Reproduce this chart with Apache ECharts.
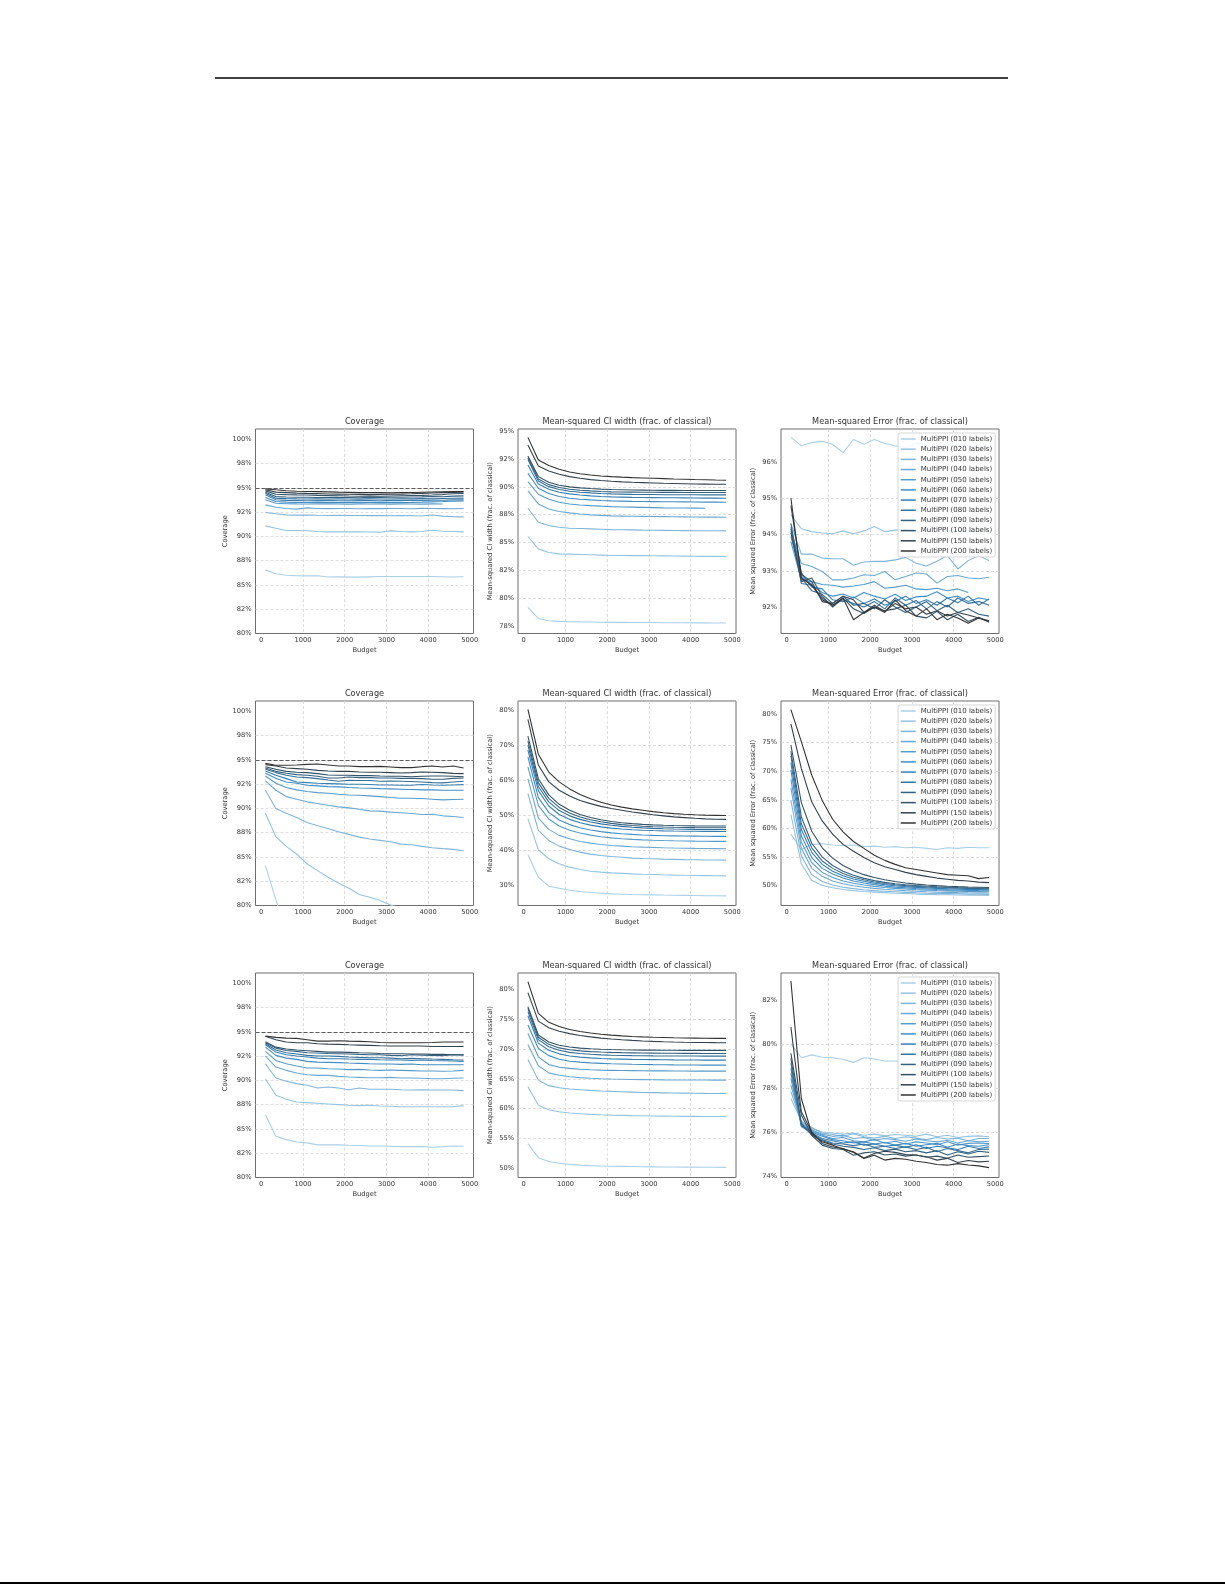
<!DOCTYPE html>
<html>
<head>
<meta charset="utf-8">
<script src="https://cdn.jsdelivr.net/npm/echarts@6/dist/echarts.min.js"></script>
<style>
  html, body { margin: 0; padding: 0; background: #fff; }
  #chart { width: 1225px; height: 1585px; }
</style>
</head>
<body>
<div id="chart"></div>
<script>
// budgets on the x axis (same for every panel)
const budgets = [100, 350, 600, 850, 1100, 1350, 1600, 1850, 2100, 2350, 2600, 2850, 3100, 3350, 3600, 3850, 4100, 4350, 4600, 4850];
const labelCounts = ['010', '020', '030', '040', '050', '060', '070', '080', '090', '100', '150', '200'];
const seriesNames = labelCounts.map(n => 'MultiPPI (' + n + ' labels)');

// tick positions and their printed labels
const xTicks = [0, 1000, 2000, 3000, 4000, 5000];
const covTicks = [80, 82.5, 85, 87.5, 90, 92.5, 95, 97.5, 100];
const covTickLabels = ['80%', '82%', '85%', '88%', '90%', '92%', '95%', '98%', '100%'];
const ciTicksA = [77.5, 80, 82.5, 85, 87.5, 90, 92.5, 95];
const ciTickLabelsA = ['78%', '80%', '82%', '85%', '88%', '90%', '92%', '95%'];
const mseTicksA = [92, 93, 94, 95, 96];
const mseTickLabelsA = ['92%', '93%', '94%', '95%', '96%'];
const ciTicksB = [30, 40, 50, 60, 70, 80];
const ciTickLabelsB = ['30%', '40%', '50%', '60%', '70%', '80%'];
const mseTicksB = [50, 55, 60, 65, 70, 75, 80];
const mseTickLabelsB = ['50%', '55%', '60%', '65%', '70%', '75%', '80%'];
const ciTicksC = [50, 55, 60, 65, 70, 75, 80];
const ciTickLabelsC = ['50%', '55%', '60%', '65%', '70%', '75%', '80%'];
const mseTicksC = [74, 76, 78, 80, 82];
const mseTickLabelsC = ['74%', '76%', '78%', '80%', '82%'];

// ---- row 1 ----
const covA = [
  [86.55, 86.15, 86.0, 85.95, 85.93, 85.95, 85.82, 85.83, 85.8, 85.8, 85.83, 85.86, 85.87, 85.86, 85.86, 85.87, 85.86, 85.84, 85.81, 85.84],
  [91.08, 90.84, 90.6, 90.6, 90.57, 90.5, 90.46, 90.46, 90.47, 90.46, 90.45, 90.43, 90.56, 90.5, 90.46, 90.5, 90.63, 90.53, 90.5, 90.46],
  [92.45, 92.32, 92.21, 92.18, 92.2, 92.17, 92.15, 92.16, 92.14, 92.15, 92.13, 92.14, 92.12, 92.13, 92.12, 92.1, 92.2, 92.08, 92.03, 92.0],
  [93.24, 93.0, 92.86, 92.8, 92.93, 92.86, 92.85, 92.87, 92.86, 92.84, 92.86, 92.85, 92.87, 92.86, 92.84, 92.88, 92.86, 92.85, 92.84, 92.86],
  [93.76, 93.41, 93.36, 93.34, 93.33, 93.35, 93.34, 93.33, 93.32, 93.34, 93.33, 93.35, 93.32, 93.34, 93.33, 93.32, 93.34, 93.33, null, null],
  [94.0, 93.58, 93.52, 93.5, 93.48, 93.5, 93.49, 93.47, 93.5, 93.48, 93.49, 93.5, 93.47, 93.49, 93.5, 93.52, 93.55, 93.58, 93.62, 93.65],
  [94.27, 93.76, 93.7, 93.69, 93.66, 93.68, 93.7, 93.67, 93.66, 93.68, 93.69, 93.66, 93.7, 93.68, 93.72, 93.7, 93.73, 93.72, 93.75, 93.76],
  [94.44, 93.93, 93.88, 93.86, 93.85, 93.86, 93.84, 93.86, 93.85, 93.83, 93.86, 93.85, 93.84, 93.87, 93.86, 93.88, 93.87, 93.9, 93.92, 93.93],
  [94.55, 94.1, 94.05, 94.03, 94.02, 94.0, 94.03, 94.01, 94.0, 93.98, 94.02, 94.0, 94.03, 94.02, 94.05, 94.06, 94.1, 94.08, 94.14, 94.17],
  [94.68, 94.34, 94.3, 94.27, 94.25, 94.22, 94.2, 94.18, 94.15, 94.13, 94.15, 94.12, 94.16, 94.18, 94.2, 94.22, 94.25, 94.3, 94.38, 94.41],
  [94.79, 94.55, 94.5, 94.45, 94.42, 94.4, 94.36, 94.35, 94.33, 94.32, 94.3, 94.32, 94.34, 94.35, 94.38, 94.42, 94.46, 94.5, 94.52, 94.55],
  [94.89, 94.79, 94.7, 94.65, 94.62, 94.6, 94.58, 94.55, 94.53, 94.5, 94.52, 94.5, 94.48, 94.5, 94.52, 94.54, 94.56, 94.58, 94.6, 94.61]
];
const ciA = [
  [79.18, 78.19, 77.99, 77.93, 77.9, 77.88, 77.87, 77.85, 77.84, 77.84, 77.83, 77.82, 77.82, 77.81, 77.8, 77.8, 77.79, 77.79, 77.78, 77.78],
  [85.54, 84.43, 84.1, 83.98, 83.96, 83.93, 83.9, 83.87, 83.84, 83.83, 83.82, 83.82, 83.81, 83.8, 83.79, 83.78, 83.77, 83.76, 83.76, 83.75],
  [88.07, 86.82, 86.52, 86.37, 86.28, 86.25, 86.22, 86.19, 86.16, 86.14, 86.13, 86.11, 86.1, 86.09, 86.08, 86.07, 86.06, 86.05, 86.05, 86.04],
  [89.63, 88.46, 88.01, 87.78, 87.66, 87.56, 87.48, 87.43, 87.39, 87.37, 87.35, 87.34, 87.33, 87.32, 87.31, 87.3, 87.29, 87.28, 87.28, 87.27],
  [90.46, 89.33, 88.88, 88.61, 88.46, 88.37, 88.31, 88.26, 88.22, 88.19, 88.17, 88.15, 88.13, 88.11, 88.1, 88.09, 88.08, 88.07, null, null],
  [91.2, 89.87, 89.39, 89.12, 88.97, 88.88, 88.82, 88.77, 88.73, 88.71, 88.69, 88.68, 88.67, 88.66, 88.65, 88.64, 88.63, 88.62, 88.62, 88.61],
  [91.96, 90.25, 89.78, 89.51, 89.36, 89.26, 89.18, 89.13, 89.09, 89.07, 89.05, 89.04, 89.03, 89.02, 89.01, 89.0, 88.99, 88.98, 88.98, 88.97],
  [92.45, 90.52, 90.01, 89.75, 89.6, 89.51, 89.45, 89.4, 89.36, 89.34, 89.32, 89.31, 89.3, 89.29, 89.29, 89.28, 89.28, 89.27, 89.27, 89.27],
  [92.6, 90.7, 90.19, 89.93, 89.78, 89.69, 89.63, 89.58, 89.54, 89.53, 89.52, 89.51, 89.51, 89.5, 89.5, 89.49, 89.49, 89.48, 89.48, 89.48],
  [92.76, 90.91, 90.4, 90.13, 89.99, 89.9, 89.84, 89.79, 89.75, 89.73, 89.71, 89.7, 89.69, 89.68, 89.68, 89.67, 89.67, 89.66, 89.66, 89.66],
  [93.75, 91.87, 91.42, 91.12, 90.91, 90.76, 90.64, 90.56, 90.49, 90.44, 90.4, 90.37, 90.34, 90.31, 90.29, 90.27, 90.25, 90.24, 90.23, 90.22],
  [94.43, 92.4, 91.9, 91.57, 91.33, 91.17, 91.06, 90.97, 90.91, 90.86, 90.82, 90.79, 90.76, 90.73, 90.7, 90.68, 90.65, 90.63, 90.6, 90.58]
];
const mseA = [
  [96.68, 96.45, 96.54, 96.57, 96.49, 96.26, 96.62, 96.49, 96.62, 96.51, 96.45, 96.4, 96.52, 96.44, 96.38, 96.5, 96.42, 96.47, 96.4, 96.45],
  [94.54, 94.16, 94.08, 94.04, 94.02, 94.1, 94.02, 94.1, 94.22, 94.08, 94.12, 94.15, 94.05, 94.1, 94.18, 94.08, 94.12, 94.06, 94.15, 94.1],
  [94.3, 93.46, 93.46, 93.35, 93.33, 93.33, 93.15, 93.24, 93.26, 93.26, 93.3, 93.37, 93.21, 93.13, 93.26, 93.42, 93.05, 93.28, 93.42, 93.28],
  [94.1, 93.2, 93.12, 92.98, 92.75, 92.75, 92.8, 92.89, 92.87, 92.98, 92.75, 92.84, 92.94, 92.91, 92.66, 92.84, 92.87, 92.8, 92.78, 92.82],
  [93.8, 92.75, 92.7, 92.62, 92.6, 92.55, 92.58, 92.62, 92.7, 92.52, 92.55, 92.6, 92.5, 92.48, 92.52, 92.45, 92.5, 92.4, null, null],
  [93.95, 92.85, 92.62, 92.4, 92.3, 92.36, 92.25, 92.4, 92.3, 92.22, 92.35, 92.18, 92.28, 92.3, 92.42, 92.25, 92.3, 92.15, 92.25, 92.2],
  [94.2, 92.95, 92.55, 92.5, 92.2, 92.15, 92.28, 92.1, 92.22, 92.05, 92.15, 92.3, 92.1, 92.2, 92.05, 92.25, 92.12, 92.3, 92.05, 92.22],
  [94.3, 92.65, 92.6, 92.25, 92.05, 92.2, 92.1, 92.0, 92.15, 91.95, 92.25, 92.05, 92.18, 91.95, 92.15, 92.0, 92.25, 92.1, 92.15, 92.05],
  [94.15, 92.8, 92.45, 92.35, 92.1, 92.3, 92.05, 92.1, 91.95, 92.2, 92.0, 91.85, 92.0, 92.15, 91.9, 92.05, 91.85, 91.95, 91.8, 91.75],
  [94.05, 92.7, 92.8, 92.3, 92.0, 92.25, 91.95, 91.82, 92.0, 91.9, 91.95, 92.05, 91.75, 91.7, 91.88, 91.65, 91.8, 91.6, 91.72, 91.58],
  [94.8, 92.9, 92.7, 92.15, 92.1, 92.3, 92.2, 91.85, 92.05, 91.88, 92.1, 91.95, 92.0, 91.8, 91.9, 91.75, 91.85, 91.78, 91.7, 91.62],
  [95.0, 92.8, 92.6, 92.2, 92.05, 92.25, 91.65, 91.85, 92.0, 91.85, 92.2, 91.9, 91.75, 91.95, 91.65, 91.8, 91.7, 91.55, 91.7, 91.6]
];

// ---- row 2 ----
const covB = [
  [84.1, 80.6, 77.3, 75.2, 73.6, 72.3, 71.2, 70.3, 69.5, 68.8, 68.2, 67.7, 67.2, 66.8, 66.4, 66.0, 65.7, 65.4, 65.1, 64.9],
  [89.5, 87.08, 86.09, 85.3, 84.27, 83.59, 82.9, 82.32, 81.78, 81.13, 80.85, 80.51, 80.05, 79.7, 79.35, 79.0, 78.7, 78.4, 78.15, 77.9],
  [91.86, 89.98, 89.5, 89.06, 88.55, 88.2, 87.93, 87.59, 87.32, 87.04, 86.84, 86.7, 86.56, 86.32, 86.26, 86.09, 85.95, 85.85, 85.78, 85.64],
  [92.82, 91.86, 91.21, 90.94, 90.67, 90.5, 90.32, 90.15, 90.05, 89.91, 89.74, 89.71, 89.61, 89.54, 89.47, 89.37, 89.4, 89.23, 89.16, 89.06],
  [93.33, 92.58, 92.14, 91.9, 91.73, 91.62, 91.56, 91.45, 91.38, 91.35, 91.28, 91.21, 91.11, 91.04, 91.04, 91.01, 90.94, 90.87, 90.91, 90.94],
  [93.61, 93.09, 92.72, 92.58, 92.38, 92.31, 92.24, 92.21, 92.14, 92.1, 92.07, 92.03, 92.0, 91.97, 91.94, 91.9, 91.9, 91.86, 91.86, 91.86],
  [93.85, 93.4, 93.06, 92.72, 92.65, 92.58, 92.55, 92.52, 92.48, 92.48, 92.45, 92.41, 92.41, 92.38, 92.38, 92.45, 92.41, 92.38, 92.41, 92.44],
  [94.02, 93.68, 93.4, 93.23, 93.16, 93.06, 92.92, 92.79, 92.89, 92.86, 92.86, 92.79, 92.82, 92.79, 92.76, 92.72, 92.65, 92.62, 92.72, 92.79],
  [94.15, 93.81, 93.61, 93.47, 93.4, 93.3, 93.13, 93.13, 93.23, 93.16, 93.16, 93.13, 93.13, 93.09, 93.09, 93.06, 92.99, 92.99, 93.09, 93.13],
  [94.29, 94.02, 93.81, 93.71, 93.68, 93.57, 93.44, 93.4, 93.4, 93.37, 93.37, 93.33, 93.3, 93.3, 93.26, 93.3, 93.33, 93.33, 93.3, 93.26],
  [94.5, 94.36, 94.15, 94.09, 94.02, 93.91, 93.85, 93.81, 93.81, 93.74, 93.71, 93.71, 93.68, 93.64, 93.68, 93.74, 93.71, 93.68, 93.6, 93.57],
  [94.63, 94.43, 94.43, 94.46, 94.53, 94.56, 94.46, 94.36, 94.36, 94.29, 94.29, 94.32, 94.26, 94.19, 94.19, 94.29, 94.36, 94.26, 94.36, 94.15]
];
const ciB = [
  [38.68, 32.29, 29.71, 29.14, 28.57, 28.19, 27.9, 27.71, 27.52, 27.43, 27.33, 27.28, 27.23, 27.18, 27.14, 27.09, 27.04, 27.0, 26.97, 26.95],
  [48.99, 40.11, 37.54, 36.11, 35.15, 34.48, 34.0, 33.72, 33.53, 33.38, 33.24, 33.14, 33.05, 32.96, 32.88, 32.82, 32.77, 32.73, 32.7, 32.67],
  [56.14, 45.65, 42.79, 41.16, 40.21, 39.45, 38.87, 38.49, 38.21, 37.97, 37.73, 37.63, 37.54, 37.45, 37.37, 37.3, 37.25, 37.21, 37.18, 37.16],
  [60.44, 49.18, 45.94, 44.22, 43.26, 42.5, 42.02, 41.64, 41.35, 41.16, 40.97, 40.87, 40.78, 40.69, 40.62, 40.56, 40.5, 40.46, 40.43, 40.4],
  [63.78, 52.8, 48.9, 46.9, 45.7, 44.9, 44.3, 43.85, 43.5, 43.25, 43.07, 42.95, 42.85, 42.76, 42.69, 42.63, 42.58, 42.55, 42.52, 42.5],
  [66.64, 55.0, 50.8, 48.6, 47.3, 46.4, 45.75, 45.3, 44.95, 44.7, 44.5, 44.35, 44.23, 44.14, 44.08, 44.03, 44.0, 43.97, 43.95, 43.93],
  [68.55, 57.0, 52.6, 50.2, 48.8, 47.85, 47.15, 46.65, 46.3, 46.05, 45.85, 45.7, 45.6, 45.52, 45.46, 45.42, 45.39, 45.37, 45.36, 45.35],
  [69.98, 58.2, 53.8, 51.3, 49.8, 48.8, 48.05, 47.5, 47.1, 46.8, 46.55, 46.37, 46.23, 46.12, 46.04, 45.98, 45.94, 45.92, 45.9, 45.9],
  [71.13, 59.3, 54.8, 52.2, 50.6, 49.5, 48.7, 48.1, 47.65, 47.3, 47.03, 46.84, 46.7, 46.6, 46.53, 46.48, 46.44, 46.42, 46.4, 46.4],
  [72.56, 60.4, 55.8, 53.1, 51.4, 50.2, 49.35, 48.7, 48.2, 47.85, 47.58, 47.38, 47.23, 47.12, 47.04, 46.98, 46.94, 46.92, 46.9, 46.89],
  [77.33, 64.3, 59.5, 57.1, 55.5, 54.2, 53.3, 52.5, 51.9, 51.4, 50.9, 50.5, 50.1, 49.8, 49.5, 49.3, 49.1, 48.95, 48.85, 48.8],
  [80.19, 67.4, 62.3, 59.5, 57.5, 55.9, 54.7, 53.7, 52.9, 52.3, 51.8, 51.4, 51.0, 50.7, 50.45, 50.25, 50.1, 50.0, 49.95, 49.9]
];
const mseB = [
  [59.0, 56.3, 57.2, 57.3, 57.1, 57.0, 57.1, 56.8, 56.9, 56.7, 56.8, 56.6, 56.7, 56.5, 56.3, 56.6, 56.5, 56.7, 56.6, 56.6],
  [62.4, 53.8, 50.9, 50.0, 49.6, 49.3, 49.1, 48.95, 48.85, 48.75, 48.65, 48.6, 48.5, 48.45, 48.4, 48.38, 48.35, 48.3, 48.3, 48.25],
  [64.9, 55.2, 51.9, 50.7, 50.1, 49.7, 49.45, 49.25, 49.1, 49.0, 48.9, 48.8, 48.72, 48.65, 48.6, 48.58, 48.55, 48.5, 48.5, 48.45],
  [67.1, 56.5, 53.0, 51.6, 50.8, 50.3, 49.95, 49.7, 49.5, 49.35, 49.22, 49.1, 49.0, 48.92, 48.85, 48.8, 48.75, 48.72, 48.7, 48.68],
  [68.6, 57.6, 54.0, 52.3, 51.4, 50.8, 50.4, 50.1, 49.85, 49.65, 49.5, 49.38, 49.28, 49.2, 49.12, 49.06, 49.0, 48.96, 48.93, 48.9],
  [70.2, 58.7, 54.9, 53.0, 52.0, 51.3, 50.8, 50.45, 50.15, 49.9, 49.72, 49.58, 49.47, 49.38, 49.3, 49.24, 49.18, 49.14, 49.1, 49.08],
  [71.5, 59.8, 55.8, 53.7, 52.5, 51.7, 51.15, 50.75, 50.4, 50.15, 49.95, 49.8, 49.68, 49.58, 49.5, 49.43, 49.37, 49.33, 49.3, 49.27],
  [72.7, 60.8, 56.6, 54.3, 53.0, 52.1, 51.45, 51.0, 50.62, 50.35, 50.14, 49.98, 49.85, 49.75, 49.66, 49.59, 49.53, 49.48, 49.45, 49.42],
  [73.5, 62.0, 57.4, 55.0, 53.5, 52.5, 51.8, 51.25, 50.85, 50.55, 50.32, 50.14, 50.0, 49.88, 49.79, 49.71, 49.65, 49.6, 49.56, 49.53],
  [74.6, 64.5, 59.5, 56.6, 54.8, 53.5, 52.6, 51.9, 51.4, 51.0, 50.7, 50.45, 50.25, 50.1, 49.98, 49.88, 49.8, 49.74, 49.7, 49.66],
  [78.3, 70.5, 64.6, 61.3, 59.0, 57.2, 56.0, 54.9, 54.0, 53.3, 52.8, 52.3, 51.9, 51.6, 51.3, 51.1, 50.9, 50.8, 50.6, 50.5],
  [80.8, 75.2, 69.3, 64.9, 61.6, 59.4, 57.7, 56.5, 55.3, 54.4, 53.7, 53.1, 52.8, 52.5, 52.2, 51.9, 51.8, 51.7, 51.2, 51.4]
];

// ---- row 3 ----
const covC = [
  [86.47, 84.25, 83.9, 83.66, 83.56, 83.36, 83.36, 83.36, 83.32, 83.29, 83.25, 83.25, 83.22, 83.18, 83.18, 83.18, 83.12, 83.18, 83.25, 83.22],
  [90.17, 88.46, 88.05, 87.77, 87.71, 87.64, 87.57, 87.5, 87.43, 87.4, 87.43, 87.36, 87.33, 87.29, 87.29, 87.29, 87.29, 87.29, 87.29, 87.4],
  [91.71, 90.24, 89.9, 89.66, 89.49, 89.21, 89.32, 89.21, 89.04, 89.21, 89.08, 89.08, 89.08, 89.04, 89.01, 89.04, 89.01, 89.01, 89.01, 88.94],
  [92.5, 91.37, 91.03, 90.75, 90.58, 90.51, 90.51, 90.41, 90.34, 90.31, 90.27, 90.27, 90.31, 90.24, 90.24, 90.21, 90.17, 90.17, 90.21, 90.24],
  [92.98, 92.05, 91.71, 91.47, 91.27, 91.27, 91.2, 91.17, 91.1, 91.13, 91.06, 91.03, 91.06, 91.03, 91.0, 90.96, 90.96, 90.93, 90.96, 91.03],
  [93.42, 92.57, 92.29, 92.16, 91.95, 91.88, 91.85, 91.82, 91.78, 91.75, 91.71, 91.68, 91.68, 91.64, 91.68, 91.61, 91.61, 91.61, 91.61, 91.61],
  [93.66, 92.91, 92.64, 92.5, 92.4, 92.29, 92.23, 92.23, 92.19, 92.16, 92.16, 92.12, 92.09, 92.09, 92.05, 92.09, 92.05, 92.02, 91.99, 91.95],
  [93.77, 93.12, 92.84, 92.71, 92.57, 92.5, 92.5, 92.47, 92.4, 92.36, 92.33, 92.33, 92.29, 92.23, 92.26, 92.23, 92.19, 92.16, 92.12, 92.09],
  [93.87, 93.32, 93.08, 92.98, 92.84, 92.81, 92.77, 92.74, 92.71, 92.67, 92.64, 92.64, 92.57, 92.54, 92.64, 92.6, 92.57, 92.54, 92.64, 92.6],
  [93.97, 93.42, 93.22, 93.12, 93.05, 92.98, 92.91, 92.91, 92.88, 92.84, 92.81, 92.77, 92.74, 92.74, 92.71, 92.71, 92.67, 92.67, 92.64, 92.64],
  [94.55, 94.18, 93.94, 93.87, 93.87, 93.77, 93.73, 93.7, 93.66, 93.63, 93.6, 93.56, 93.53, 93.53, 93.53, 93.53, 93.49, 93.49, 93.49, 93.49],
  [94.55, 94.42, 94.35, 94.32, 94.18, 94.04, 94.04, 94.08, 94.04, 94.01, 93.97, 93.9, 93.87, 93.87, 93.87, 93.87, 93.9, 93.94, 93.94, 93.94]
];
const ciC = [
  [54.1, 51.74, 51.1, 50.8, 50.6, 50.48, 50.4, 50.34, 50.3, 50.27, 50.24, 50.21, 50.19, 50.17, 50.16, 50.15, 50.14, 50.13, 50.12, 50.11],
  [63.65, 60.56, 59.8, 59.45, 59.25, 59.12, 59.02, 58.95, 58.89, 58.85, 58.81, 58.78, 58.75, 58.73, 58.71, 58.69, 58.68, 58.67, 58.66, 58.65],
  [68.26, 64.78, 63.85, 63.5, 63.3, 63.15, 63.05, 62.96, 62.88, 62.82, 62.76, 62.71, 62.67, 62.64, 62.61, 62.59, 62.57, 62.55, 62.54, 62.53],
  [70.79, 67.19, 66.0, 65.6, 65.35, 65.2, 65.1, 65.02, 64.96, 64.92, 64.88, 64.86, 64.84, 64.82, 64.81, 64.8, 64.79, 64.79, 64.78, 64.78],
  [72.64, 68.7, 67.4, 66.95, 66.75, 66.6, 66.52, 66.46, 66.42, 66.39, 66.37, 66.35, 66.34, 66.33, 66.32, 66.31, 66.3, 66.3, 66.29, 66.29],
  [74.04, 70.1, 68.9, 68.3, 67.95, 67.8, 67.68, 67.6, 67.53, 67.48, 67.44, 67.41, 67.38, 67.36, 67.34, 67.33, 67.32, 67.31, 67.3, 67.3],
  [75.62, 71.0, 69.8, 69.2, 68.85, 68.65, 68.52, 68.43, 68.36, 68.31, 68.27, 68.24, 68.22, 68.2, 68.18, 68.17, 68.16, 68.15, 68.15, 68.15],
  [76.3, 71.6, 70.4, 69.8, 69.45, 69.25, 69.12, 69.03, 68.97, 68.93, 68.9, 68.88, 68.86, 68.85, 68.84, 68.83, 68.83, 68.82, 68.82, 68.82],
  [76.85, 72.0, 70.8, 70.2, 69.9, 69.7, 69.58, 69.5, 69.44, 69.4, 69.37, 69.34, 69.32, 69.3, 69.29, 69.28, 69.28, 69.27, 69.27, 69.27],
  [77.13, 72.36, 71.2, 70.65, 70.35, 70.17, 70.05, 69.97, 69.92, 69.88, 69.85, 69.83, 69.82, 69.81, 69.8, 69.79, 69.79, 69.78, 69.78, 69.78],
  [79.49, 74.7, 73.6, 73.0, 72.6, 72.3, 72.05, 71.85, 71.7, 71.57, 71.46, 71.37, 71.3, 71.24, 71.19, 71.15, 71.12, 71.1, 71.08, 71.07],
  [81.35, 76.0, 74.5, 73.8, 73.3, 72.95, 72.7, 72.5, 72.35, 72.23, 72.13, 72.05, 71.99, 71.94, 71.9, 71.87, 71.84, 71.82, 71.81, 71.8]
];
const mseC = [
  [80.01, 79.37, 79.5, 79.39, 79.37, 79.3, 79.16, 79.37, 79.31, 79.22, 79.22, 79.2, 79.28, 79.15, 79.2, 79.1, 79.22, 79.25, 79.12, 79.2],
  [77.52, 76.5, 76.15, 76.0, 75.95, 75.9, 75.95, 75.85, 75.9, 75.82, 75.88, 75.85, 75.8, 75.9, 75.78, 75.85, 75.75, 75.8, 75.82, 75.78],
  [77.83, 76.45, 76.2, 75.95, 75.88, 75.8, 75.92, 75.78, 75.72, 75.8, 75.7, 75.78, 75.72, 75.65, 75.75, 75.68, 75.72, 75.6, 75.7, 75.7],
  [78.13, 76.4, 76.1, 75.9, 75.8, 75.85, 75.7, 75.75, 75.62, 75.7, 75.65, 75.58, 75.68, 75.6, 75.55, 75.62, 75.5, 75.6, 75.55, 75.58],
  [78.43, 76.3, 76.05, 75.85, 75.7, 75.75, 75.6, 75.55, 75.65, 75.5, 75.58, 75.45, 75.55, 75.5, 75.42, 75.55, 75.4, 75.48, 75.5, 75.47],
  [78.66, 76.35, 76.0, 75.8, 75.65, 75.6, 75.5, 75.55, 75.45, 75.52, 75.4, 75.48, 75.35, 75.42, 75.48, 75.3, 75.45, 75.38, 75.35, 75.42],
  [78.89, 76.25, 75.95, 75.7, 75.6, 75.5, 75.55, 75.4, 75.45, 75.35, 75.4, 75.3, 75.42, 75.25, 75.35, 75.28, 75.2, 75.35, 75.25, 75.32],
  [79.12, 76.3, 75.9, 75.65, 75.5, 75.45, 75.38, 75.45, 75.3, 75.35, 75.25, 75.32, 75.2, 75.3, 75.1, 75.25, 75.15, 75.05, 75.2, 75.22],
  [79.34, 76.4, 75.85, 75.6, 75.45, 75.35, 75.3, 75.2, 75.28, 75.15, 75.22, 75.1, 75.15, 75.05, 75.15, 74.95, 75.1, 75.0, 75.12, 75.07],
  [79.57, 76.76, 75.85, 75.4, 75.25, 75.2, 74.94, 75.05, 75.1, 74.95, 75.0, 74.9, 74.95, 74.85, 74.9, 74.8, 74.95, 74.85, 74.88, 74.91],
  [80.76, 76.92, 76.0, 75.47, 75.32, 75.25, 75.07, 74.82, 75.02, 75.12, 75.07, 74.97, 74.95, 74.87, 74.72, 74.8, 74.61, 74.7, 74.64, 74.67],
  [82.86, 77.52, 75.93, 75.55, 75.4, 75.22, 75.1, 74.79, 74.94, 74.72, 74.8, 74.76, 74.67, 74.61, 74.52, 74.49, 74.56, 74.5, 74.46, 74.38]
];

// light blue -> steel blue -> dark grey, one per label count
const lineColors = ['#abd0e6', '#96c3df', '#81b5d8', '#6ca8d1', '#579bca', '#428ec4',
                    '#377fb3', '#36709a', '#356180', '#345266', '#34424d', '#333333'];

const FONT = 'DejaVu Sans';
const TXT = '#333';
const colLeft = [255.5, 518, 781];
const rowTop = [429, 701, 973];
const plotW = 218;
const plotH = 204.5;

const titleCov = 'Coverage';
const titleCi = 'Mean-squared CI width (frac. of classical)';
const titleMse = 'Mean-squared Error (frac. of classical)';
const nameMse = 'Mean squared Error (frac. of classical)';

const panels = [
  { row: 0, col: 0, data: covA, ticks: covTicks, labels: covTickLabels, min: 80, max: 101.05, title: titleCov, yName: 'Coverage', gap: 26.5, target: true },
  { row: 0, col: 1, data: ciA, ticks: ciTicksA, labels: ciTickLabelsA, min: 76.84, max: 95.18, title: titleCi, yName: titleCi, gap: 24.5 },
  { row: 0, col: 2, data: mseA, ticks: mseTicksA, labels: mseTickLabelsA, min: 91.27, max: 96.91, title: titleMse, yName: nameMse, gap: 24.5, legend: true },
  { row: 1, col: 0, data: covB, ticks: covTicks, labels: covTickLabels, min: 80, max: 101.05, title: titleCov, yName: 'Coverage', gap: 26.5, target: true },
  { row: 1, col: 1, data: ciB, ticks: ciTicksB, labels: ciTickLabelsB, min: 24.2, max: 82.6, title: titleCi, yName: titleCi, gap: 24.5 },
  { row: 1, col: 2, data: mseB, ticks: mseTicksB, labels: mseTickLabelsB, min: 46.5, max: 82.3, title: titleMse, yName: nameMse, gap: 24.5, legend: true },
  { row: 2, col: 0, data: covC, ticks: covTicks, labels: covTickLabels, min: 80, max: 101.05, title: titleCov, yName: 'Coverage', gap: 26.5, target: true },
  { row: 2, col: 1, data: ciC, ticks: ciTicksC, labels: ciTickLabelsC, min: 48.4, max: 82.8, title: titleCi, yName: titleCi, gap: 24.5 },
  { row: 2, col: 2, data: mseC, ticks: mseTicksC, labels: mseTickLabelsC, min: 73.93, max: 83.22, title: titleMse, yName: nameMse, gap: 24.5, legend: true }
];

const gridLine = { show: true, showMinLine: false, showMaxLine: false,
                   lineStyle: { color: '#d6d6d6', width: 0.8, type: [3, 2] } };

const grids = [], xAxes = [], yAxes = [], titles = [], series = [], legends = [];

panels.forEach(function (p, i) {
  const left = colLeft[p.col];
  const top = rowTop[p.row];

  grids.push({ left: left, top: top, width: plotW, height: plotH, show: true,
               borderColor: '#6e6e6e', borderWidth: 1, backgroundColor: 'transparent' });

  titles.push({ text: p.title, left: left + plotW / 2, top: top - 12.5, textAlign: 'center', padding: 0,
                textStyle: { fontFamily: FONT, fontSize: 8.2, fontWeight: 'normal', color: TXT, lineHeight: 10 } });

  xAxes.push({
    gridIndex: i, type: 'value', min: -137.5, max: 5087.5,
    name: 'Budget', nameLocation: 'middle', nameGap: 13,
    nameTextStyle: { fontFamily: FONT, fontSize: 6.7, color: TXT },
    axisLine: { show: false },
    axisTick: { show: false, customValues: xTicks },
    axisLabel: { customValues: xTicks, fontFamily: FONT, fontSize: 6.7, color: TXT, margin: 3,
                 formatter: function (v) { return String(v); } },
    splitLine: gridLine
  });

  const ticks = p.ticks, labels = p.labels;
  yAxes.push({
    gridIndex: i, type: 'value', min: p.min, max: p.max,
    name: p.yName, nameLocation: 'middle', nameGap: p.gap, nameRotate: 90,
    nameTextStyle: { fontFamily: FONT, fontSize: 6.7, color: TXT },
    axisLine: { show: false },
    axisTick: { show: false, customValues: ticks },
    axisLabel: { customValues: ticks, fontFamily: FONT, fontSize: 6.7, color: TXT, margin: 4,
                 formatter: function (v) { const k = ticks.indexOf(v); return k >= 0 ? labels[k] : ''; } },
    splitLine: gridLine
  });

  p.data.forEach(function (vals, k) {
    const pts = [];
    vals.forEach(function (v, j) { if (v !== null) pts.push([budgets[j], v]); });
    const s = {
      name: seriesNames[k], type: 'line', xAxisIndex: i, yAxisIndex: i,
      data: pts, symbol: 'none', clip: true, silent: true,
      lineStyle: { color: lineColors[k], width: 1.1 },
      itemStyle: { color: lineColors[k] }
    };
    if (p.target && k === 0) {
      s.markLine = { silent: true, symbol: 'none', label: { show: false },
                     lineStyle: { color: '#5a5a5a', width: 1, type: [4, 2] },
                     data: [{ yAxis: 95 }] };
    }
    series.push(s);
  });

  if (p.legend) {
    legends.push({
      data: seriesNames, orient: 'vertical', left: 898, top: top + 4,
      itemWidth: 15, itemHeight: 8, itemGap: 2.18,
      padding: [2, 3, 2, 2],
      itemStyle: { opacity: 0, borderWidth: 0 },
      lineStyle: { width: 1.5 },
      backgroundColor: 'rgba(255,255,255,0.85)', borderColor: '#cccccc', borderWidth: 0.8, borderRadius: 2,
      textStyle: { fontFamily: FONT, fontSize: 7, color: TXT, lineHeight: 8 },
      selectedMode: false
    });
  }
});

const chart = echarts.init(document.getElementById('chart'), null, { renderer: 'canvas' });
chart.setOption({
  animation: false,
  backgroundColor: '#ffffff',
  textStyle: { fontFamily: FONT },
  title: titles,
  legend: legends,
  grid: grids,
  xAxis: xAxes,
  yAxis: yAxes,
  series: series,
  graphic: [
    { type: 'line', shape: { x1: 215, y1: 78, x2: 1008, y2: 78 }, style: { stroke: '#000', lineWidth: 1.5 } },
    { type: 'line', shape: { x1: 0, y1: 1583, x2: 1225, y2: 1583 }, style: { stroke: '#000', lineWidth: 2 } }
  ]
});
</script>
</body>
</html>
